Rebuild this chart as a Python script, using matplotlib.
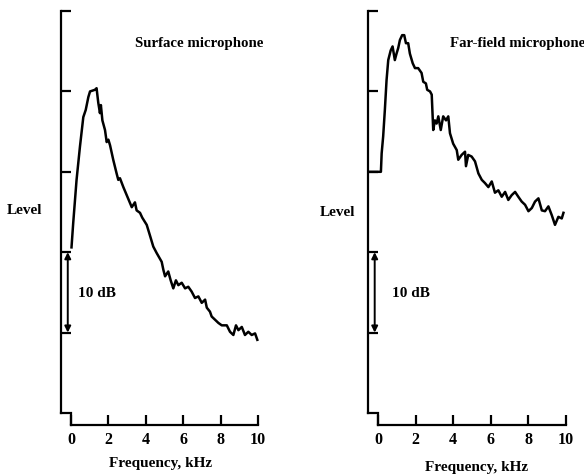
import matplotlib
matplotlib.use('Agg')
import matplotlib.pyplot as plt

plt.rcParams['font.family'] = ['Liberation Serif', 'DejaVu Serif']
plt.rcParams['font.weight'] = 'bold'

# frequency (kHz) and level (dB, relative)
surf_freq = [0.03, 0.12, 0.3, 0.48, 0.66, 0.79, 0.93, 1.02, 1.28, 1.37, 1.46, 1.55, 1.6,
             1.68, 1.82, 1.91, 2.0, 2.09, 2.26, 2.44, 2.53, 2.62, 2.8, 2.98, 3.25, 3.42,
             3.51, 3.69, 3.81, 4.05, 4.22, 4.4, 4.58, 4.85, 4.94, 5.03, 5.2, 5.33, 5.47,
             5.61, 5.74, 5.92, 6.1, 6.27, 6.45, 6.63, 6.81, 6.99, 7.17, 7.26, 7.43, 7.52,
             7.7, 7.88, 8.06, 8.33, 8.5, 8.68, 8.82, 8.95, 9.13, 9.3, 9.48, 9.66, 9.84, 9.96]
surf_level = [20.6, 23.6, 29.0, 33.1, 36.8, 37.7, 39.3, 40.0, 40.2, 40.4, 38.6, 37.3, 38.3,
              36.4, 35.2, 33.7, 34.0, 33.3, 31.5, 29.8, 29.0, 29.2, 28.1, 27.1, 25.6, 26.2,
              25.2, 24.9, 24.3, 23.4, 22.1, 20.7, 19.9, 18.8, 17.8, 17.0, 17.6, 16.5, 15.5,
              16.5, 15.9, 16.2, 15.5, 15.7, 15.1, 14.3, 14.5, 13.7, 14.1, 13.1, 12.6, 12.0,
              11.6, 11.2, 10.9, 10.9, 10.1, 9.7, 10.9, 10.3, 10.7, 9.7, 10.1, 9.7, 9.9, 9.1]

far_freq = [-0.5, 0.16, 0.2, 0.28, 0.37, 0.46, 0.55, 0.68, 0.78, 0.9, 0.99, 1.08, 1.17,
            1.29, 1.4, 1.49, 1.61, 1.7, 1.85, 1.97, 2.14, 2.32, 2.41, 2.55, 2.62, 2.77,
            2.86, 2.94, 3.03, 3.12, 3.21, 3.34, 3.47, 3.62, 3.74, 3.83, 4.0, 4.19, 4.27,
            4.45, 4.63, 4.68, 4.8, 4.98, 5.16, 5.34, 5.52, 5.69, 5.87, 6.05, 6.22, 6.4,
            6.58, 6.76, 6.93, 7.11, 7.29, 7.46, 7.64, 7.82, 8.0, 8.18, 8.35, 8.53, 8.71,
            8.88, 9.06, 9.24, 9.41, 9.59, 9.77, 9.86]
far_level = [30.0, 30.0, 32.3, 34.4, 37.7, 41.4, 43.9, 45.1, 45.6, 43.9, 44.7, 45.4, 46.4,
             47.0, 47.0, 46.0, 46.0, 44.7, 43.5, 42.9, 42.9, 42.3, 41.2, 41.0, 40.2, 40.0,
             39.6, 35.2, 36.4, 36.0, 36.9, 35.2, 36.9, 36.4, 36.9, 34.8, 33.5, 32.7, 31.5,
             32.1, 32.5, 30.7, 32.1, 31.9, 31.3, 29.8, 29.0, 28.6, 28.1, 28.8, 27.4, 27.7,
             26.9, 27.5, 26.5, 27.1, 27.5, 26.9, 26.3, 25.9, 25.1, 25.5, 26.3, 26.7, 25.2,
             25.1, 25.7, 24.6, 23.4, 24.4, 24.2, 24.9]

x_ticks = [0, 2, 4, 6, 8, 10]
y_ticks = [10, 20, 30, 40, 50]

XMIN, YMIN = -0.53, -1.5

fig = plt.figure(figsize=(5.84, 4.76), dpi=100)
ax1 = fig.add_axes([0.1045, 0.1071, 0.347, 0.8697])
ax2 = fig.add_axes([0.630, 0.1071, 0.349, 0.8697])


def setup(ax, freq, level, title, title_x, db_x):
    ax.plot(freq, level, color='black', linewidth=1.8)
    ax.set_xlim(XMIN, 10.3)
    ax.set_ylim(YMIN, 50)
    ax.patch.set_visible(False)
    for s in ['top', 'right']:
        ax.spines[s].set_visible(False)
    ax.spines['left'].set_bounds(0, 50)
    ax.spines['bottom'].set_bounds(0, 10)
    for s in ['left', 'bottom']:
        ax.spines[s].set_linewidth(1.6)
    # step between the y axis and the shifted x axis
    ax.plot([XMIN, 0, 0], [0, 0, YMIN], color='black', linewidth=1.6,
            clip_on=False, solid_joinstyle='miter')
    ax.set_xticks(x_ticks)
    ax.set_yticks(y_ticks)
    ax.set_yticklabels([])
    ax.tick_params(axis='y', direction='in', length=7.5, width=1.6)
    ax.tick_params(axis='x', direction='in', length=7, width=1.6,
                   pad=5, labelsize=11.5)
    for lbl in ax.get_xticklabels():
        lbl.set_fontweight('bold')
    ax.text(title_x, 46, title, fontsize=10.7, fontweight='bold', va='center')
    ax.annotate('', xy=(-0.17, 20), xytext=(-0.17, 10),
                arrowprops=dict(arrowstyle='<|-|>', color='black', lw=1.4,
                                mutation_scale=9, shrinkA=0, shrinkB=0))
    ax.text(db_x, 14.9, '10 dB', fontsize=11, fontweight='bold', va='center')


setup(ax1, surf_freq, surf_level, 'Surface microphone', 3.42, 0.37)
setup(ax2, far_freq, far_level, 'Far-field microphone', 3.83, 0.74)

fig.text(25 / 584, 1 - 210 / 476, 'Level', fontsize=11, fontweight='bold',
         ha='center', va='center')
fig.text(338 / 584, 1 - 213 / 476, 'Level', fontsize=11, fontweight='bold',
         ha='center', va='center')
fig.text(161 / 584, 1 - 464 / 476, 'Frequency, kHz', fontsize=11,
         fontweight='bold', ha='center', va='center')
fig.text(477 / 584, 1 - 467 / 476, 'Frequency, kHz', fontsize=11,
         fontweight='bold', ha='center', va='center')

fig.savefig('out.png', dpi=100)
